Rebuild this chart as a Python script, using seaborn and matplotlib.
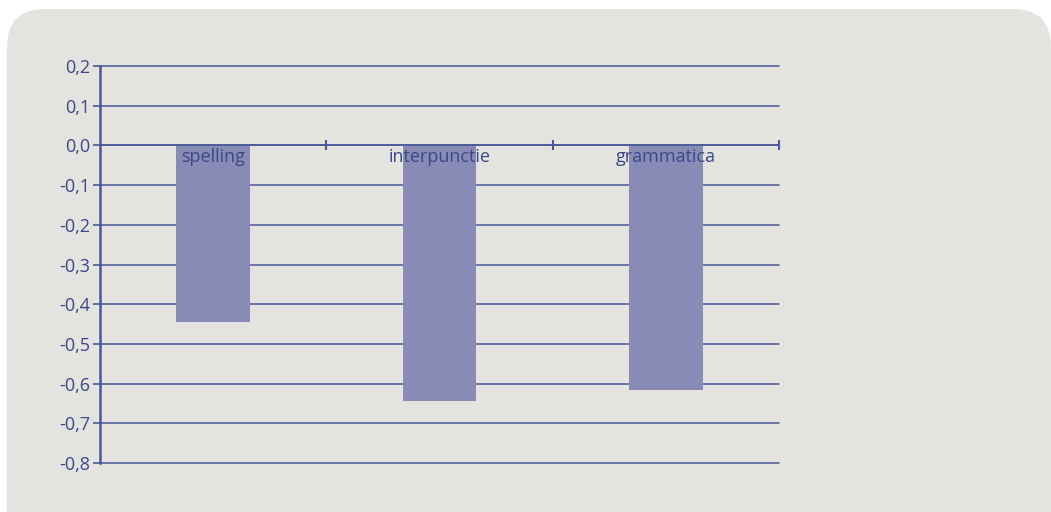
import matplotlib
matplotlib.use("Agg")
import matplotlib.pyplot as plt
from matplotlib.patches import FancyBboxPatch
from matplotlib.ticker import FuncFormatter, FixedLocator
import seaborn as sns
import pandas as pd

categories = ["spelling", "interpunctie", "grammatica"]
values = [-0.446, -0.645, -0.615]
y_ticks = [0.2, 0.1, 0.0, -0.1, -0.2, -0.3, -0.4, -0.5, -0.6, -0.7, -0.8]

text_col = "#3B4889"
line_col = "#4A5898"
bar_col = "#878BB5"
bg_col = "#E4E3DF"

sns.set_style("white")
plt.rcParams["font.family"] = ["Open Sans", "DejaVu Sans"]

fig = plt.figure(figsize=(10.51, 5.12), dpi=100)
fig.patch.set_facecolor("white")

# rounded background panel, drawn in pixel-like coords
bg = fig.add_axes([0, 0, 1, 1])
bg.set_xlim(0, 1051)
bg.set_ylim(512, 0)
bg.axis("off")
bg.add_patch(FancyBboxPatch((7, 9), 1044, 600,
                            boxstyle="round,pad=0,rounding_size=38",
                            facecolor=bg_col, edgecolor="none"))

ax = fig.add_axes([100 / 1051, 49 / 512, 679 / 1051, 397 / 512])
ax.set_facecolor("none")

df = pd.DataFrame({"cat": categories, "val": values})
sns.barplot(data=df, x="cat", y="val", color=bar_col, saturation=1,
            width=0.325, linewidth=0, ax=ax, zorder=3)

ax.set_xlim(-0.5, 2.5)
ax.set_ylim(-0.8, 0.2)
ax.set_xlabel("")
ax.set_ylabel("")

# gridlines
ax.set_yticks(y_ticks)
ax.yaxis.set_major_formatter(FuncFormatter(lambda v, p: f"{v:.1f}".replace(".", ",").replace("-0,0", "0,0")))
for y in y_ticks:
    ax.axhline(y, color=line_col, linewidth=1.1, zorder=1, clip_on=False)

for s in ["top", "right"]:
    ax.spines[s].set_visible(False)
ax.spines["left"].set_color(line_col)
ax.spines["left"].set_linewidth(1.8)
ax.spines["bottom"].set_position(("data", 0))
ax.spines["bottom"].set_color(line_col)
ax.spines["bottom"].set_linewidth(1.2)
ax.spines["bottom"].set_zorder(4)

ax.tick_params(axis="y", which="major", left=True, length=5, width=1.2,
               color=line_col, labelcolor=text_col, labelsize=13, pad=2)
ax.tick_params(axis="x", which="major", bottom=False, labelbottom=False)
ax.xaxis.set_minor_locator(FixedLocator([0.5, 1.5, 2.5]))
ax.tick_params(axis="x", which="minor", bottom=True, direction="inout",
               length=7, width=1.5, color=line_col)

# category labels just under the zero line, on top of the bars
for i, name in enumerate(categories):
    ax.annotate(name, (i, 0), xytext=(0, -2), textcoords="offset points",
                ha="center", va="top", color=text_col, fontsize=13, zorder=6)

plt.savefig("out.png", dpi=100)
